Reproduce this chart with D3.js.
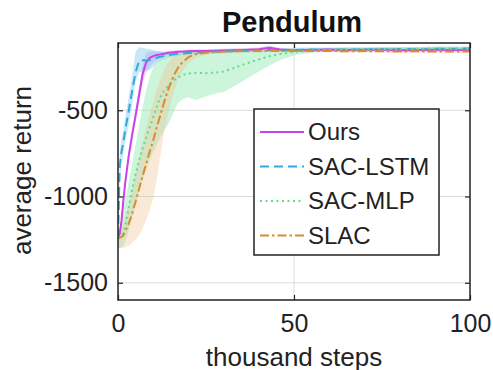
<!DOCTYPE html>
<html>
<head>
<meta charset="utf-8">
<script src="https://cdn.jsdelivr.net/npm/d3@7"></script>
<style>
  html, body { margin: 0; padding: 0; background: #fff; }
  svg { display: block; font-family: "Liberation Sans", Arial, Helvetica, sans-serif; }
</style>
</head>
<body>
<div id="chart"></div>
<script>
// x positions (thousand steps), shared by all series
const steps = [0, 0.5, 1, 1.5, 2, 3, 4, 5, 6, 7, 8, 9, 10, 11, 12, 13, 14, 15, 16, 17, 18, 20, 22, 25, 28, 30, 33, 36, 40, 43, 46, 50, 55, 60, 65, 70, 75, 80, 85, 90, 95, 100];

// Ours
const oursMean = [-1240, -1215, -1140, -1030, -930, -770, -645, -530, -410, -290, -222, -196, -186, -180, -176, -172, -168, -165, -163, -161, -160, -158, -157, -156, -155, -154, -152, -150, -146, -137, -148, -154, -150, -148, -151, -149, -148, -152, -150, -149, -150, -150];
const oursLo = [-1270, -1245, -1170, -1060, -960, -800, -675, -565, -450, -340, -280, -250, -228, -212, -198, -188, -180, -176, -173, -171, -170, -168, -167, -166, -165, -164, -162, -160, -157, -150, -158, -164, -160, -158, -161, -159, -158, -162, -160, -159, -160, -160];
const oursHi = [-1210, -1185, -1110, -1000, -900, -740, -615, -495, -370, -240, -170, -160, -158, -160, -160, -160, -158, -155, -153, -151, -150, -148, -147, -146, -145, -144, -142, -140, -136, -126, -138, -144, -140, -138, -141, -139, -138, -142, -140, -139, -140, -140];

// SAC-LSTM
const lstmMean = [-1240, -820, -740, -690, -620, -510, -390, -280, -212, -210, -212, -208, -202, -195, -190, -186, -182, -178, -175, -173, -171, -168, -165, -162, -160, -158, -156, -155, -153, -151, -152, -150, -148, -150, -147, -148, -146, -145, -146, -144, -143, -142];
const lstmLo = [-1280, -900, -810, -760, -690, -590, -470, -330, -280, -275, -272, -265, -250, -230, -215, -205, -198, -192, -188, -185, -183, -180, -177, -174, -172, -170, -168, -167, -165, -163, -164, -162, -160, -162, -159, -160, -158, -157, -158, -156, -155, -154];
const lstmHi = [-1200, -740, -670, -620, -550, -430, -300, -160, -135, -138, -142, -145, -150, -155, -160, -162, -164, -163, -161, -160, -159, -156, -153, -150, -148, -146, -144, -143, -141, -139, -140, -138, -136, -138, -135, -136, -134, -133, -134, -132, -131, -130];

// SAC-MLP
const mlpMean = [-1240, -1235, -1228, -1212, -1180, -1070, -960, -870, -790, -720, -660, -600, -540, -480, -425, -390, -365, -345, -325, -310, -298, -287, -283, -285, -281, -276, -255, -232, -205, -187, -174, -162, -155, -150, -147, -146, -144, -145, -143, -142, -143, -144];
const mlpLo = [-1300, -1298, -1292, -1282, -1265, -1205, -1125, -1045, -970, -905, -845, -790, -740, -700, -660, -620, -590, -550, -500, -460, -440, -425, -440, -420, -402, -394, -360, -325, -275, -240, -210, -182, -166, -160, -157, -156, -154, -155, -153, -152, -153, -154];
const mlpHi = [-1200, -1170, -1130, -1080, -1030, -920, -810, -700, -590, -480, -385, -305, -255, -222, -200, -186, -176, -169, -166, -164, -162, -160, -159, -158, -157, -156, -155, -152, -150, -148, -146, -145, -143, -140, -137, -136, -134, -135, -133, -132, -133, -134];

// SLAC
const slacMean = [-1240, -1238, -1234, -1225, -1205, -1160, -1100, -1030, -955, -880, -810, -740, -675, -600, -530, -460, -395, -340, -292, -255, -228, -192, -175, -166, -162, -160, -158, -156, -155, -154, -156, -155, -157, -156, -158, -157, -158, -159, -158, -160, -159, -160];
const slacLo = [-1300, -1300, -1300, -1298, -1295, -1285, -1270, -1250, -1225, -1185, -1135, -1080, -1010, -900, -770, -645, -540, -455, -385, -325, -285, -228, -198, -178, -171, -168, -166, -164, -163, -162, -164, -163, -165, -164, -166, -165, -166, -167, -166, -168, -167, -168];
const slacHi = [-1200, -1195, -1180, -1150, -1120, -1050, -960, -870, -780, -690, -600, -520, -450, -380, -320, -272, -232, -203, -186, -176, -170, -162, -160, -156, -153, -152, -150, -148, -147, -146, -148, -147, -149, -148, -150, -149, -150, -151, -150, -152, -151, -152];

const seriesNames = ['Ours', 'SAC-LSTM', 'SAC-MLP', 'SLAC'];
const xTicks = [0, 50, 100];
const yTicks = [-500, -1000, -1500];

// Styles for each series
const styles = [
  { color: '#c844e6', band: '#c98be8', alpha: 0.4, dash: null },
  { color: '#35a7dc', band: '#86cdee', alpha: 0.45, dash: '9,5' },
  { color: '#5fdc8c', band: '#8fe8b2', alpha: 0.45, dash: '2,3.5' },
  { color: '#d98c30', band: '#eebf8c', alpha: 0.35, dash: '9,3,2.5,3' },
];

const series = [
  { mean: oursMean, lo: oursLo, hi: oursHi },
  { mean: lstmMean, lo: lstmLo, hi: lstmHi },
  { mean: mlpMean, lo: mlpLo, hi: mlpHi },
  { mean: slacMean, lo: slacLo, hi: slacHi },
].map((s, i) => ({ ...s, name: seriesNames[i], ...styles[i] }));

const width = 493;
const height = 370;
const margin = { left: 118, right: 23, top: 43, bottom: 70 };

const svg = d3.select('#chart').append('svg').attr('width', width).attr('height', height);

const x = d3.scaleLinear().domain([0, 100]).range([margin.left, width - margin.right]);
const y = d3.scaleLinear().domain([-1600, -110]).range([height - margin.bottom, margin.top]);

const [x0, x1] = x.range();
const [y0, y1] = y.range();

svg.append('defs').append('clipPath').attr('id', 'plot-clip')
  .append('rect').attr('x', x0).attr('y', y1).attr('width', x1 - x0).attr('height', y0 - y1);

// Grid lines
const grid = svg.append('g').attr('stroke', '#dcdcdc').attr('stroke-width', 1);
grid.selectAll('.gx').data(xTicks.slice(1, -1)).enter().append('line')
  .attr('x1', (d) => x(d)).attr('x2', (d) => x(d)).attr('y1', y1).attr('y2', y0);
grid.selectAll('.gy').data(yTicks).enter().append('line')
  .attr('y1', (d) => y(d)).attr('y2', (d) => y(d)).attr('x1', x0).attr('x2', x1);

// Bands and lines
const plot = svg.append('g').attr('clip-path', 'url(#plot-clip)');

const area = (s) => d3.area()
  .x((d, i) => x(steps[i]))
  .y0((d, i) => y(s.lo[i]))
  .y1((d, i) => y(s.hi[i]));

plot.selectAll('.band').data(series).enter().append('path')
  .attr('class', 'band')
  .attr('d', (s) => area(s)(s.mean))
  .attr('fill', (s) => s.band)
  .attr('fill-opacity', (s) => s.alpha);

const line = d3.line().x((d, i) => x(steps[i])).y((d) => y(d));

plot.selectAll('.line').data(series).enter().append('path')
  .attr('class', 'line')
  .attr('d', (s) => line(s.mean))
  .attr('fill', 'none')
  .attr('stroke', (s) => s.color)
  .attr('stroke-width', 2)
  .attr('stroke-dasharray', (s) => s.dash);

// Axes (MATLAB style: box, inward ticks)
const fmt = (d) => String(d);
const axisX = d3.axisBottom(x).tickValues(xTicks).tickFormat(fmt).tickSizeInner(-5).tickSizeOuter(0).tickPadding(14);
const axisY = d3.axisLeft(y).tickValues(yTicks).tickFormat(fmt).tickSizeInner(-5).tickSizeOuter(0).tickPadding(10);

const gx = svg.append('g').attr('transform', `translate(0,${y0})`).call(axisX);
const gy = svg.append('g').attr('transform', `translate(${x0},0)`).call(axisY);
svg.append('g').attr('transform', `translate(0,${y1})`)
  .call(d3.axisTop(x).tickValues(xTicks).tickSizeInner(-5).tickSizeOuter(0).tickFormat(''));
svg.append('g').attr('transform', `translate(${x1},0)`)
  .call(d3.axisRight(y).tickValues(yTicks).tickSizeInner(-5).tickSizeOuter(0).tickFormat(''));

svg.selectAll('.domain').remove();
svg.selectAll('.tick line').attr('stroke', '#222').attr('stroke-width', 1.2);
gx.selectAll('text').attr('font-size', 25).attr('fill', '#222')
  .attr('font-family', '"Liberation Sans", Arial, sans-serif');
gy.selectAll('text').attr('font-size', 25).attr('fill', '#222')
  .attr('font-family', '"Liberation Sans", Arial, sans-serif');

// Frame
svg.append('rect')
  .attr('x', x0).attr('y', y1).attr('width', x1 - x0).attr('height', y0 - y1)
  .attr('fill', 'none').attr('stroke', '#222').attr('stroke-width', 1.5);

// Title and axis labels
svg.append('text')
  .attr('x', (x0 + x1) / 2 - 2).attr('y', 32)
  .attr('text-anchor', 'middle').attr('font-size', 29).attr('font-weight', 'bold').attr('fill', '#111')
  .text('Pendulum');

svg.append('text')
  .attr('x', (x0 + x1) / 2).attr('y', 366)
  .attr('text-anchor', 'middle').attr('font-size', 26).attr('fill', '#222')
  .text('thousand steps');

svg.append('text')
  .attr('transform', `translate(31,${(y0 + y1) / 2 - 1}) rotate(-90)`)
  .attr('text-anchor', 'middle').attr('font-size', 26).attr('fill', '#222')
  .text('average return');

// Legend
const legend = svg.append('g').attr('transform', 'translate(254,109)');
legend.append('rect').attr('width', 185).attr('height', 146)
  .attr('fill', '#fff').attr('stroke', '#222').attr('stroke-width', 1.5);

const items = legend.selectAll('.item').data(series).enter().append('g')
  .attr('transform', (d, i) => `translate(0,${23 + i * 34.5})`);
items.append('line')
  .attr('x1', 6).attr('x2', 50).attr('y1', 0).attr('y2', 0)
  .attr('stroke', (d) => d.color).attr('stroke-width', 2)
  .attr('stroke-dasharray', (d) => d.dash);
items.append('text')
  .attr('x', 54).attr('y', 0).attr('dy', '0.35em')
  .attr('font-size', 24).attr('fill', '#222')
  .text((d) => d.name);
</script>
</body>
</html>
